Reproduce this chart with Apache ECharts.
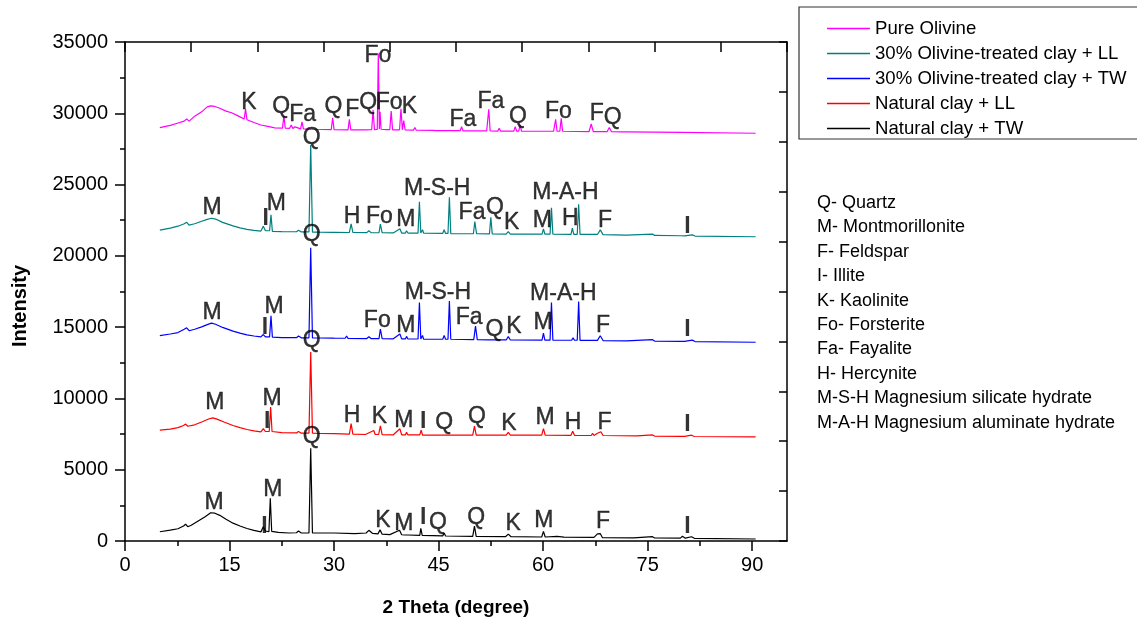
<!DOCTYPE html>
<html>
<head>
<meta charset="utf-8">
<script src="https://cdn.jsdelivr.net/npm/echarts@6/dist/echarts.min.js"></script>
<style>
html, body { margin: 0; padding: 0; background: #fff; }
#chart { width: 1137px; height: 623px; }
</style>
</head>
<body>
<div id="chart"></div>
<script>
// tick values
const xTicks = [0, 15, 30, 45, 60, 75, 90]
const xMinorTicks = [7.5, 22.5, 37.5, 52.5, 67.5, 82.5]

const seriesNames = ['Pure Olivine', '30% Olivine-treated clay + LL', '30% Olivine-treated clay + TW', 'Natural clay + LL', 'Natural clay + TW']

const phaseKey = ['Q- Quartz', 'M- Montmorillonite', 'F- Feldspar', 'I- Illite', 'K- Kaolinite', 'Fo- Forsterite', 'Fa- Fayalite', 'H- Hercynite', 'M-S-H Magnesium silicate hydrate', 'M-A-H Magnesium aluminate hydrate']

// [2theta, intensity]
const pureOlivine = [[5.0,28990],[6.5,29150],[7.5,29300],[8.5,29450],[8.85,29600],[9.2,29450],[10.0,29800],[11.0,30100],[11.8,30450],[12.3,30520],[12.9,30480],[13.6,30350],[14.5,30150],[15.3,30040],[16.3,29800],[17.1,29600],[17.3,30300],[17.5,29550],[18.5,29350],[19.5,29180],[20.5,29080],[21.5,28980],[22.6,28960],[22.8,29810],[23.0,28950],[23.6,28940],[23.85,29180],[24.1,28930],[24.2,28930],[24.4,29050],[24.6,28920],[25.2,28910],[25.4,29390],[25.6,28900],[27.0,28880],[29.6,28860],[29.8,29690],[30.0,28850],[32.0,28840],[32.2,29580],[32.4,28840],[34.5,28840],[35.4,28850],[35.6,30230],[35.8,28860],[36.2,28870],[36.35,34200],[36.5,28900],[36.6,30100],[36.75,28880],[37.5,28860],[38.0,28850],[38.2,30160],[38.4,28840],[39.4,28840],[39.6,30320],[39.8,28840],[39.9,28840],[40.0,29480],[40.2,28830],[41.4,28820],[41.6,29000],[41.8,28810],[44.2,28800],[44.4,28900],[44.6,28790],[48.1,28780],[48.3,29060],[48.5,28770],[51.9,28760],[52.2,30280],[52.4,28760],[53.5,28750],[53.7,28950],[53.9,28750],[55.8,28750],[56.0,29060],[56.2,28750],[56.5,28750],[56.7,29180],[56.9,28750],[58.3,28740],[58.5,28850],[58.7,28740],[61.5,28740],[61.8,29580],[62.0,28740],[62.4,28740],[62.6,29650],[62.8,28740],[66.6,28720],[66.9,29250],[67.2,28720],[69.2,28720],[69.5,29010],[69.8,28720],[71.3,28700],[71.5,28830],[71.7,28700],[80.0,28660],[90.5,28600]]

const olivineLL = [[5.0,21810],[6.5,21950],[7.6,22080],[8.5,22250],[8.85,22350],[9.2,22150],[10.0,22250],[11.0,22430],[11.8,22560],[12.4,22640],[13.0,22580],[14.0,22350],[15.5,22100],[16.5,21960],[17.5,21860],[18.5,21790],[19.5,21740],[19.85,22080],[20.15,21760],[20.75,21760],[20.95,22880],[21.15,21720],[22.5,21700],[24.6,21690],[24.9,21800],[25.3,21680],[26.4,21680],[26.65,27780],[26.9,21670],[28.0,21660],[29.8,21650],[30.0,21780],[30.2,21650],[32.2,21640],[32.45,22240],[32.7,21640],[34.7,21630],[35.0,21760],[35.3,21630],[36.45,21620],[36.65,22220],[36.9,21620],[38.5,21610],[39.45,21900],[39.7,21600],[40.25,21600],[40.4,21760],[40.6,21600],[42.05,21600],[42.25,23800],[42.45,21600],[42.6,21600],[42.7,21830],[42.85,21590],[45.6,21580],[45.8,21830],[46.0,21570],[46.35,21570],[46.55,24110],[46.75,21560],[50.0,21550],[50.2,22400],[50.45,21550],[52.3,21540],[52.5,22700],[52.7,21540],[54.7,21530],[55.0,21700],[55.3,21530],[59.85,21520],[60.05,21890],[60.25,21520],[61.0,21520],[61.2,23380],[61.4,21520],[64.0,21510],[64.2,21940],[64.4,21510],[64.9,21510],[65.1,23620],[65.3,21500],[67.8,21500],[68.2,21820],[68.6,21490],[72.0,21450],[75.7,21530],[76.0,21430],[79.8,21410],[80.0,21500],[80.3,21400],[81.4,21470],[81.8,21390],[90.5,21340]]

const olivineTW = [[5.0,14400],[6.5,14520],[7.6,14620],[8.5,14850],[8.85,14950],[9.2,14750],[10.0,14850],[11.0,15020],[11.8,15180],[12.4,15280],[13.0,15200],[14.0,14980],[15.5,14720],[16.5,14580],[17.5,14460],[18.5,14380],[19.5,14320],[19.85,14480],[20.15,14320],[20.75,14320],[20.95,15800],[21.15,14300],[22.5,14270],[24.6,14260],[24.9,14380],[25.3,14250],[26.4,14250],[26.65,20570],[26.9,14250],[28.0,14240],[29.8,14230],[30.0,14350],[30.2,14220],[31.6,14220],[31.8,14380],[32.0,14210],[34.7,14200],[35.0,14330],[35.3,14200],[36.45,14200],[36.65,14870],[36.9,14190],[38.5,14180],[39.45,14520],[39.7,14180],[40.25,14180],[40.4,14350],[40.6,14170],[42.05,14170],[42.25,16720],[42.45,14170],[42.6,14170],[42.7,14420],[42.85,14160],[45.6,14150],[45.8,14420],[46.0,14150],[46.35,14150],[46.55,16840],[46.75,14150],[50.05,14120],[50.3,15080],[50.55,14120],[52.3,14110],[52.5,14250],[52.7,14110],[54.7,14100],[55.0,14330],[55.3,14100],[59.85,14090],[60.05,14580],[60.25,14090],[61.0,14090],[61.2,16720],[61.4,14090],[64.1,14080],[64.3,14250],[64.5,14080],[64.9,14080],[65.1,16790],[65.3,14070],[67.8,14070],[68.2,14400],[68.6,14060],[72.0,14030],[75.7,14120],[76.0,14020],[79.8,14000],[80.0,14130],[80.3,14000],[81.4,14090],[81.8,13990],[90.5,13940]]

const naturalLL = [[5.0,7780],[6.5,7850],[7.6,7950],[8.4,8100],[8.7,8200],[9.0,8050],[10.0,8150],[11.0,8350],[12.0,8560],[12.6,8640],[13.2,8550],[14.2,8350],[15.5,8100],[16.5,7950],[17.5,7820],[18.5,7730],[19.5,7650],[19.85,7880],[20.15,7680],[20.7,7680],[20.9,9400],[21.1,7680],[22.5,7600],[24.6,7580],[24.9,7680],[25.3,7560],[26.4,7560],[26.65,13250],[26.9,7560],[28.0,7540],[30.0,7530],[32.2,7500],[32.45,8230],[32.7,7500],[34.5,7470],[35.7,7750],[35.9,7470],[36.4,7470],[36.65,8080],[36.9,7460],[38.5,7450],[39.45,7870],[39.7,7450],[40.25,7450],[40.4,7620],[40.6,7440],[42.3,7440],[42.5,7780],[42.7,7430],[45.6,7430],[45.85,7570],[46.1,7430],[49.9,7420],[50.15,8050],[50.4,7420],[54.7,7420],[55.0,7620],[55.3,7420],[59.8,7420],[60.05,7880],[60.3,7420],[64.0,7410],[64.25,7700],[64.5,7410],[66.9,7400],[67.1,7560],[67.3,7400],[67.8,7560],[68.3,7660],[68.6,7400],[73.5,7370],[75.7,7440],[76.0,7360],[79.8,7340],[80.0,7460],[80.3,7340],[81.3,7420],[81.7,7330],[90.5,7300]]

const naturalTW = [[5.0,650],[6.5,760],[7.6,860],[8.4,1050],[8.7,1180],[9.0,1000],[9.5,1100],[10.5,1400],[11.5,1700],[12.3,1980],[12.9,1950],[13.6,1800],[14.5,1520],[15.5,1250],[16.5,1050],[17.5,880],[18.5,740],[19.5,640],[19.85,1000],[20.15,700],[20.65,650],[20.85,3000],[21.05,680],[22.0,600],[23.5,560],[24.6,580],[24.9,700],[25.3,560],[26.4,560],[26.65,6500],[26.9,560],[28.0,560],[30.0,560],[33.0,520],[34.6,560],[35.0,750],[35.5,540],[36.3,500],[36.6,780],[36.9,480],[38.0,450],[39.4,750],[39.7,440],[40.2,420],[40.4,560],[40.6,420],[42.3,400],[42.45,880],[42.65,390],[45.6,360],[45.8,560],[46.0,350],[49.9,320],[50.15,1050],[50.4,320],[54.6,300],[55.0,480],[55.4,300],[59.8,280],[60.05,680],[60.3,280],[62.0,330],[63.0,270],[67.3,250],[67.8,500],[68.2,520],[68.5,240],[73.0,220],[75.7,300],[76.0,210],[79.7,200],[80.0,330],[80.4,200],[81.3,300],[81.7,190],[90.5,140]]

// phase labels [2theta, intensity, text]
const peakLabels = [
    [17.8,30720,'K'],[22.4,30440,'Q'],[25.5,29880,'Fa'],[29.9,30440,'Q'],[32.6,30230,'F'],[34.9,30720,'Q'],[37.9,30720,'Fo'],[40.8,30440,'K'],[36.3,34020,'Fo'],[48.5,29530,'Fa'],[52.5,30790,'Fa'],[56.4,29740,'Q'],[62.2,30090,'Fo'],[67.7,29950,'F'],[70.0,29670,'Q'],
    [26.8,28270,'Q'],[12.5,23360,'M'],[20.2,22590,'I'],[21.7,23640,'M'],[32.6,22730,'H'],[36.5,22730,'Fo'],[40.3,22520,'M'],[44.8,24690,'M-S-H'],[49.8,23010,'Fa'],[53.1,23360,'Q'],[55.5,22310,'K'],[59.9,22450,'M'],[63.2,24410,'M-A-H'],[63.9,22590,'H'],[68.9,22450,'F'],[80.7,22020,'I'],
    [26.8,21460,'Q'],[12.5,15990,'M'],[20.1,14940,'I'],[21.4,16410,'M'],[36.2,15430,'Fo'],[40.3,15080,'M'],[44.9,17390,'M-S-H'],[49.4,15640,'Fa'],[53.0,14800,'Q'],[55.8,15010,'K'],[60.0,15290,'M'],[62.9,17320,'M-A-H'],[68.6,15080,'F'],[80.7,14800,'I'],
    [26.8,14030,'Q'],[12.9,9680,'M'],[21.1,9960,'M'],[20.4,8350,'I'],[32.6,8770,'H'],[36.5,8700,'K'],[40.0,8420,'M'],[42.8,8350,'I'],[45.8,8280,'Q'],[50.5,8700,'Q'],[55.1,8210,'K'],[60.3,8630,'M'],[64.3,8280,'H'],[68.8,8280,'F'],[80.7,8140,'I'],
    [26.8,7290,'Q'],[12.8,2670,'M'],[21.2,3580,'M'],[20.0,980,'I'],[37.0,1400,'K'],[40.0,1190,'M'],[42.8,1610,'I'],[44.9,1260,'Q'],[50.4,1610,'Q'],[55.7,1190,'K'],[60.1,1400,'M'],[68.6,1330,'F'],[80.7,980,'I']
]

const FONT = '"Liberation Sans", Arial, sans-serif'
const colors = ['#ff00ff', '#008080', '#0000ff', '#ff0000', '#000000']
const seriesData = [pureOlivine, olivineLL, olivineTW, naturalLL, naturalTW]

const axisLine = { show: true, onZero: false, lineStyle: { color: '#000', width: 1.5 } }

let option = {
    animation: false,
    backgroundColor: '#fff',
    textStyle: { fontFamily: FONT },
    grid: { left: 125, top: 42, right: 350, bottom: 82 },
    legend: {
        data: seriesNames,
        orient: 'vertical',
        left: 799,
        top: 7,
        icon: 'rect',
        itemWidth: 43,
        itemHeight: 1.5,
        itemGap: 6,
        padding: [12, 20, 1, 28],
        borderColor: '#333',
        borderWidth: 1.2,
        textStyle: { fontSize: 18.6, color: '#000', fontFamily: FONT }
    },
    xAxis: [
        {
            type: 'value', min: 0, max: 95, position: 'bottom',
            axisLine: axisLine,
            axisTick: { show: true, inside: false, length: 10, customValues: xTicks, lineStyle: { width: 1.5, color: '#000' } },
            axisLabel: { customValues: xTicks, fontSize: 20, color: '#000', margin: 14, fontFamily: FONT },
            splitLine: { show: false }
        },
        {
            type: 'value', min: 0, max: 95, position: 'bottom',
            axisLine: { show: false },
            axisTick: { show: true, inside: false, length: 5, customValues: xMinorTicks, lineStyle: { width: 1.5, color: '#000' } },
            axisLabel: { show: false },
            splitLine: { show: false }
        },
        {
            type: 'value', min: 0, max: 95, interval: 9.5, position: 'top',
            axisLine: axisLine,
            axisTick: { show: true, inside: true, length: 10, lineStyle: { width: 1.5, color: '#000' } },
            axisLabel: { show: false },
            splitLine: { show: false }
        }
    ],
    yAxis: [
        {
            type: 'value', min: 0, max: 35000, interval: 5000, position: 'left',
            axisLine: axisLine,
            axisTick: { show: true, inside: false, length: 10, lineStyle: { width: 1.5, color: '#000' } },
            minorTick: { show: true, splitNumber: 2, length: 5, lineStyle: { width: 1.5, color: '#000' } },
            axisLabel: { fontSize: 20, color: '#000', margin: 17, fontFamily: FONT, formatter: v => String(v) },
            splitLine: { show: false }
        },
        {
            type: 'value', min: 0, max: 35000, interval: 3500, position: 'right',
            axisLine: axisLine,
            axisTick: { show: true, inside: true, length: 8, lineStyle: { width: 1.5, color: '#000' } },
            axisLabel: { show: false },
            splitLine: { show: false }
        }
    ],
    series: seriesNames.map((name, i) => ({
        name: name,
        type: 'line',
        xAxisIndex: 0,
        yAxisIndex: 0,
        data: seriesData[i],
        symbol: 'none',
        color: colors[i],
        lineStyle: { width: 1.2, color: colors[i] }
    })).concat([{
        name: 'labels',
        type: 'scatter',
        xAxisIndex: 0,
        yAxisIndex: 0,
        data: peakLabels,
        symbol: 'circle',
        symbolSize: 1,
        itemStyle: { color: 'rgba(0,0,0,0)' },
        silent: true,
        z: 5,
        label: {
            show: true,
            position: [0.5, 0.5],
            align: 'center',
            verticalAlign: 'middle',
            formatter: p => p.value[2] === 'I' ? '{b|I}' : '{n|' + p.value[2] + '}',
            rich: {
                n: { fontSize: 23, color: '#000', fontFamily: FONT, textBorderColor: '#000', textBorderWidth: 0.4 },
                b: { fontSize: 23, fontWeight: 'bold', color: '#000', fontFamily: FONT }
            }
        }
    }]),
    graphic: [
        {
            type: 'text', x: 20, y: 306, rotation: Math.PI / 2,
            style: { text: 'Intensity', fontSize: 20, fontWeight: 'bold', fontFamily: FONT, fill: '#000', textAlign: 'center', textVerticalAlign: 'middle' }
        },
        {
            type: 'text', x: 456, y: 608,
            style: { text: '2 Theta (degree)', fontSize: 19, fontWeight: 'bold', fontFamily: FONT, fill: '#000', textAlign: 'center', textVerticalAlign: 'middle' }
        }
    ].concat(phaseKey.map((t, i) => ({
        type: 'text', x: 817, y: 203 + i * 24.4,
        style: { text: t, fontSize: 18, fontFamily: FONT, fill: '#000', textAlign: 'left', textVerticalAlign: 'middle' }
    })))
}

let chart = echarts.init(document.getElementById('chart'))
chart.setOption(option)
window.addEventListener('resize', () => {
    chart.resize()
})
</script>
</body>
</html>
